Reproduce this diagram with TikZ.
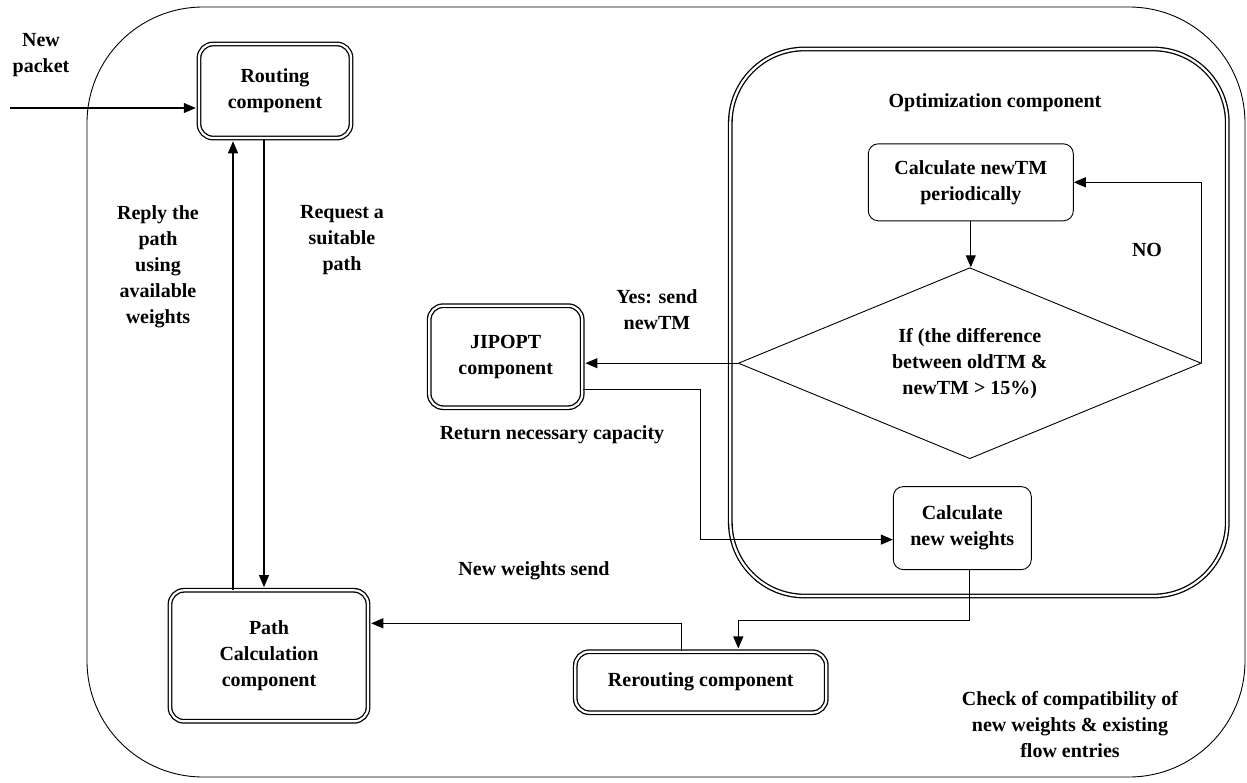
\documentclass[tikz,border=0pt]{standalone}
\usepackage{fontspec}
\setmainfont{Liberation Serif}
\usetikzlibrary{positioning,shapes.geometric,arrows.meta}

\tikzset{
  comp/.style={draw, double, double distance=1.1pt, line width=0.65pt,
    rounded corners=7pt, align=center, inner sep=0pt},
  proc/.style={draw, line width=0.45pt, rounded corners=5pt, align=center, inner sep=0pt},
  decision/.style={draw, diamond, aspect=2.4, line width=0.45pt, align=center, inner sep=0pt},
  lbl/.style={align=center, inner sep=0pt},
  flow/.style={->, line width=0.55pt},
}

\begin{document}
\begin{tikzpicture}[x=0.5pt, y=-0.5pt, >={Triangle[length=6pt,width=5pt]},
  font=\bfseries\fontsize{10}{13}\selectfont]

  \useasboundingbox (0,0) rectangle (1247,782);

  % Outer frame
  \draw[line width=0.45pt, rounded corners=58pt] (87,7) rectangle (1245,777);

  % Define nodes
  \node[comp, minimum width=76pt, minimum height=47pt]                  (rout) at (275,91) {Routing\\component};
  \node[comp, minimum width=99pt, minimum height=65.5pt,
        below=225.5pt of rout, xshift=-3pt]                             (pathcalc) {Path\\Calculation\\component};
  \node[comp, rounded corners=37pt, minimum width=248.5pt, minimum height=273.5pt,
        right=189pt of rout, yshift=-115.75pt]                          (optim) {};
  \node[proc, minimum width=102.5pt, minimum height=38.5pt,
        below=47.5pt of optim.north, xshift=-4pt]                       (calctm) {Calculate newTM\\periodically};
  \node[decision, minimum width=231.5pt, minimum height=95.5pt,
        below=23pt of calctm, xshift=-0.5pt]                            (cond) {If (the difference\\between oldTM \&\\newTM > 15\%)};
  \node[proc, minimum width=69pt, minimum height=41.5pt,
        below=13.5pt of cond, xshift=-3.75pt]                           (calcw) {Calculate\\new weights};
  \node[comp, minimum width=125.5pt, minimum height=30.5pt,
        below=40.5pt of calcw, xshift=-130.75pt]                        (rerout) {Rerouting component};
  \node[comp, minimum width=76.5pt, minimum height=51pt,
        left=77.5pt of cond, yshift=3.25pt]                             (jipopt) {JIPOPT\\component};

  % Labels
  \node[lbl] (lpacket)  at (41,55)    {New\\packet};
  \node[lbl] (lreply)   at (158,267)  {Reply the\\path\\using\\available\\weights};
  \node[lbl] (lrequest) at (342,240)  {Request a\\suitable\\path};
  \node[lbl] (lyes)     at (657,310)  {Yes: send\\newTM};
  \node[lbl] (lreturn)  at (552,435)  {Return necessary capacity};
  \node[lbl] (lsend)    at (534,571)  {New weights send};
  \node[lbl] (loptim)   at (995,103)  {Optimization component};
  \node[lbl] (lno)      at (1147,250) {NO};
  \node[lbl] (lcheck)   at (1070,725) {Check of compatibility of\\new weights \& existing\\flow entries};

  % Connect the nodes
  \coordinate (pktin) at (10,108);
  \coordinate (up)    at ([xshift=-21pt]rout.south);
  \coordinate (down)  at ([xshift=-5.5pt]rout.south);
  \draw[flow, shorten >=1.3pt] (pktin) -- (pktin -| rout.west);
  \draw[flow, shorten >=1.3pt] (up |- pathcalc.north) -- (up);
  \draw[flow, shorten >=1.3pt] (down) -- (down |- pathcalc.north);
  \draw[flow] (calctm.south) -- (calctm.south |- cond.north);
  \draw[flow] (cond.east) |- (calctm.east);
  \draw[flow, shorten >=1.3pt] (cond.west) -- (cond.west -| jipopt.east);
  \draw[flow] ([yshift=-16.5pt]jipopt.east) -- ++(59pt,0) |- ([yshift=-5.75pt]calcw.west);
  \draw[flow, shorten >=1.3pt] ([xshift=3.5pt]calcw.south) |- ([xshift=18.75pt, yshift=15.5pt]rerout.north)
    -- ([xshift=18.75pt]rerout.north);
  \draw[flow, shorten >=1.3pt] ([xshift=-9.75pt]rerout.north) |- ([yshift=16.25pt]pathcalc.east);

\end{tikzpicture}
\end{document}
